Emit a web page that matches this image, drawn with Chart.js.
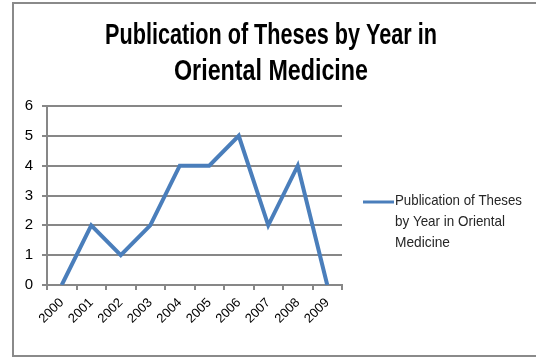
<!DOCTYPE html>
<html>
<head>
<meta charset="utf-8">
<script src="https://cdn.jsdelivr.net/npm/chart.js@4"></script>
<style>
  html, body { margin: 0; padding: 0; background: #fff; }
  #wrap { position: relative; width: 536px; height: 357px; overflow: hidden; }
  #frame { position: absolute; left: 12px; top: 2px; width: 530px; height: 351px; border: 2px solid #8a8a8a; pointer-events: none; }
  canvas { position: absolute; left: 0; top: 0; }
</style>
</head>
<body>
<div id="wrap">
  <canvas id="chart" width="536" height="357"></canvas>
  <div id="frame"></div>
</div>
<script>
const TITLE = ["Publication of Theses by Year in", "Oriental Medicine"];
const SERIES_NAME = "Publication of Theses by Year in Oriental Medicine";
const LEGEND_LINES = ["Publication of Theses", "by Year in Oriental", "Medicine"];
const years = ["2000", "2001", "2002", "2003", "2004", "2005", "2006", "2007", "2008", "2009"];
const theses = [0, 2, 1, 2, 4, 4, 5, 2, 4, 0];
const yTicks = [0, 1, 2, 3, 4, 5, 6];

const SANS = "'Liberation Sans', Arial, sans-serif";
const LINE_BLUE = "#4a7ebb";
const GRID = "#878787";

// squeeze text to a width, the reference uses a narrow face
function narrowText(ctx, text, x, y, w){
  ctx.fillText(text, x, y, w);
}

/* ---- title drawn by hand (two narrow bold lines) ---- */
const narrowTitle = {
  id: "narrowTitle",
  afterDraw(chart){
    const ctx = chart.ctx;
    ctx.save();
    ctx.fillStyle = "#000";
    ctx.font = "bold 29px " + SANS;
    ctx.textAlign = "center";
    ctx.textBaseline = "alphabetic";
    narrowText(ctx, TITLE[0], 271, 44, 332);
    narrowText(ctx, TITLE[1], 271, 80, 194);
    ctx.restore();
  }
};

/* ---- side legend (wrapped, like the Excel one) ---- */
const sideLegend = {
  id: "sideLegend",
  afterDraw(chart){
    const ctx = chart.ctx;
    const x0 = 363, y0 = 202;
    ctx.save();
    ctx.strokeStyle = chart.data.datasets[0].borderColor;
    ctx.lineWidth = 3;
    ctx.beginPath();
    ctx.moveTo(x0, y0);
    ctx.lineTo(x0 + 31, y0);
    ctx.stroke();
    ctx.fillStyle = "#262626";
    ctx.font = "15px " + SANS;
    ctx.textBaseline = "middle";
    const widths = [127, 110, 55];
    LEGEND_LINES.forEach((t, i) => narrowText(ctx, t, x0 + 32, y0 - 1 + i * 21, widths[i]));
    ctx.restore();
  }
};

new Chart(document.getElementById("chart"), {
  type: "line",
  data: {
    labels: years,
    datasets: [{
      label: SERIES_NAME,
      data: theses,
      borderColor: LINE_BLUE,
      borderWidth: 4,
      pointRadius: 0,
      tension: 0,
      fill: false
    }]
  },
  options: {
    responsive: false,
    animation: false,
    layout: { padding: { left: 0, right: 194, top: 106, bottom: 0 } },
    plugins: {
      legend: { display: false },
      tooltip: { enabled: false },
      title: { display: false }
    },
    scales: {
      x: {
        offset: true,
        afterFit: (axis) => { axis.height = 72; },
        grid: { offset: true, drawOnChartArea: false, drawTicks: true, tickLength: 5, color: GRID, lineWidth: 2 },
        border: { color: GRID, width: 2 },
        ticks: { color: "#000", font: { family: SANS, size: 13 }, minRotation: 45, maxRotation: 45, padding: 5 }
      },
      y: {
        min: 0, max: 6,
        afterFit: (axis) => { axis.width = 47; },
        afterBuildTicks: (axis) => { axis.ticks = yTicks.map(v => ({ value: v })); },
        grid: { color: GRID, lineWidth: 2, tickLength: 5 },
        border: { color: GRID, width: 2 },
        ticks: { color: "#000", font: { family: SANS, size: 15 }, padding: 9 }
      }
    }
  },
  plugins: [narrowTitle, sideLegend]
});
</script>
</body>
</html>
